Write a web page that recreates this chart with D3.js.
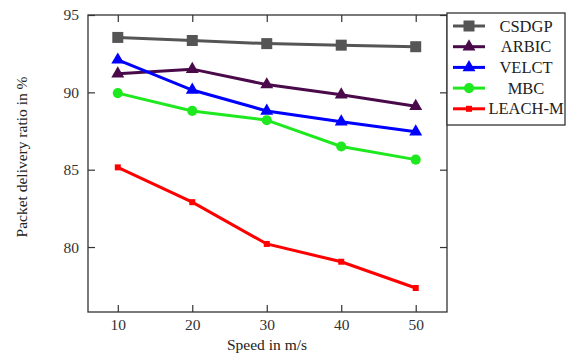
<!DOCTYPE html>
<html>
<head>
<meta charset="utf-8">
<script src="https://cdn.jsdelivr.net/npm/d3@7"></script>
<style>
  body { margin: 0; background: #fff; }
  svg { font-family: "Liberation Serif", "DejaVu Serif", serif; }
</style>
</head>
<body>
<svg width="577" height="362"></svg>
<script>
// chart data
const speeds = [10, 20, 30, 40, 50];
const csdgp = [93.55, 93.35, 93.15, 93.05, 92.95];
const arbic = [91.2, 91.5, 90.5, 89.85, 89.1];
const velct = [92.1, 90.15, 88.8, 88.1, 87.45];
const mbc = [89.95, 88.8, 88.2, 86.5, 85.65];
const leachM = [85.15, 82.9, 80.2, 79.05, 77.35];
const yTicks = [80, 85, 90, 95];

const series = [
  { name: "CSDGP", values: csdgp, color: "#555555", marker: "square", size: 11 },
  { name: "ARBIC", values: arbic, color: "#4a0a4a", marker: "triangle", size: 11 },
  { name: "VELCT", values: velct, color: "#0000ff", marker: "triangle", size: 11 },
  { name: "MBC", values: mbc, color: "#1ee81e", marker: "circle", size: 10 },
  { name: "LEACH-M", values: leachM, color: "#ff0000", marker: "square", size: 6 }
];

let svg = d3.select("svg");
let margin = { left: 88, top: 15, right: 447, bottom: 312 };

let x = d3.scaleLinear().domain([6, 54.2]).range([margin.left, margin.right]);
let y = d3.scaleLinear().domain([75.8, 95]).range([margin.bottom, margin.top]);

// frame
svg.append("rect")
  .attr("x", margin.left).attr("y", margin.top)
  .attr("width", margin.right - margin.left)
  .attr("height", margin.bottom - margin.top)
  .attr("fill", "none").attr("stroke", "#333").attr("stroke-width", 1.3);

// inward ticks on all four sides
let axisStyle = g => {
  g.select(".domain").remove();
  g.selectAll(".tick line").attr("stroke", "#333").attr("stroke-width", 1.2);
  g.selectAll(".tick text").attr("fill", "#333").style("font-size", "15.5px")
    .style("font-family", "Liberation Serif, serif");
};

svg.append("g").attr("transform", `translate(0,${margin.bottom})`)
  .call(d3.axisBottom(x).tickValues(speeds).tickSizeInner(-7).tickPadding(7))
  .call(axisStyle);
svg.append("g").attr("transform", `translate(0,${margin.top})`)
  .call(d3.axisTop(x).tickValues(speeds).tickSizeInner(-7).tickFormat(""))
  .call(axisStyle);
svg.append("g").attr("transform", `translate(${margin.left},0)`)
  .call(d3.axisLeft(y).tickValues(yTicks).tickSizeInner(-7).tickPadding(9))
  .call(axisStyle);
svg.append("g").attr("transform", `translate(${margin.right},0)`)
  .call(d3.axisRight(y).tickValues(yTicks).tickSizeInner(-7).tickFormat(""))
  .call(axisStyle);

// marker shapes
let symbolFor = s => {
  let type = s.marker === "square" ? d3.symbolSquare : s.marker === "triangle" ? d3.symbolTriangle : d3.symbolCircle;
  return d3.symbol().type(type).size(s.size * s.size * (s.marker === "circle" ? 0.8 : s.marker === "triangle" ? 0.6 : 1))();
};

let line = d3.line().x((d, i) => x(speeds[i])).y(d => y(d));

series.forEach(s => {
  let g = svg.append("g");
  g.append("path").datum(s.values)
    .attr("d", line).attr("fill", "none")
    .attr("stroke", s.color).attr("stroke-width", 3);
  g.selectAll("path.pt").data(s.values).enter().append("path")
    .attr("class", "pt")
    .attr("d", symbolFor(s))
    .attr("transform", (d, i) => `translate(${x(speeds[i])},${y(d)})`)
    .attr("fill", s.color);
});

// legend
let legend = svg.append("g").attr("transform", "translate(447,13)");
legend.append("rect").attr("width", 118).attr("height", 112)
  .attr("fill", "#fff").attr("stroke", "#333").attr("stroke-width", 1.3);
series.forEach((s, i) => {
  let ly = 13 + i * 20.7;
  legend.append("line").attr("x1", 6).attr("x2", 38).attr("y1", ly).attr("y2", ly)
    .attr("stroke", s.color).attr("stroke-width", 3);
  legend.append("path").attr("d", symbolFor(s))
    .attr("transform", `translate(22,${ly})`).attr("fill", s.color);
  legend.append("text").attr("x", 79).attr("y", ly + 5.5)
    .attr("text-anchor", "middle").style("font-size", "16.5px").attr("fill", "#222")
    .text(s.name);
});

// axis titles
svg.append("text").attr("x", 267).attr("y", 350).attr("text-anchor", "middle")
  .style("font-size", "15.5px").attr("fill", "#222").text("Speed in m/s");
svg.append("text").attr("transform", "translate(27,157) rotate(-90)")
  .attr("text-anchor", "middle").style("font-size", "15.5px").attr("fill", "#222")
  .text("Packet delivery ratio in %");
</script>
</body>
</html>
